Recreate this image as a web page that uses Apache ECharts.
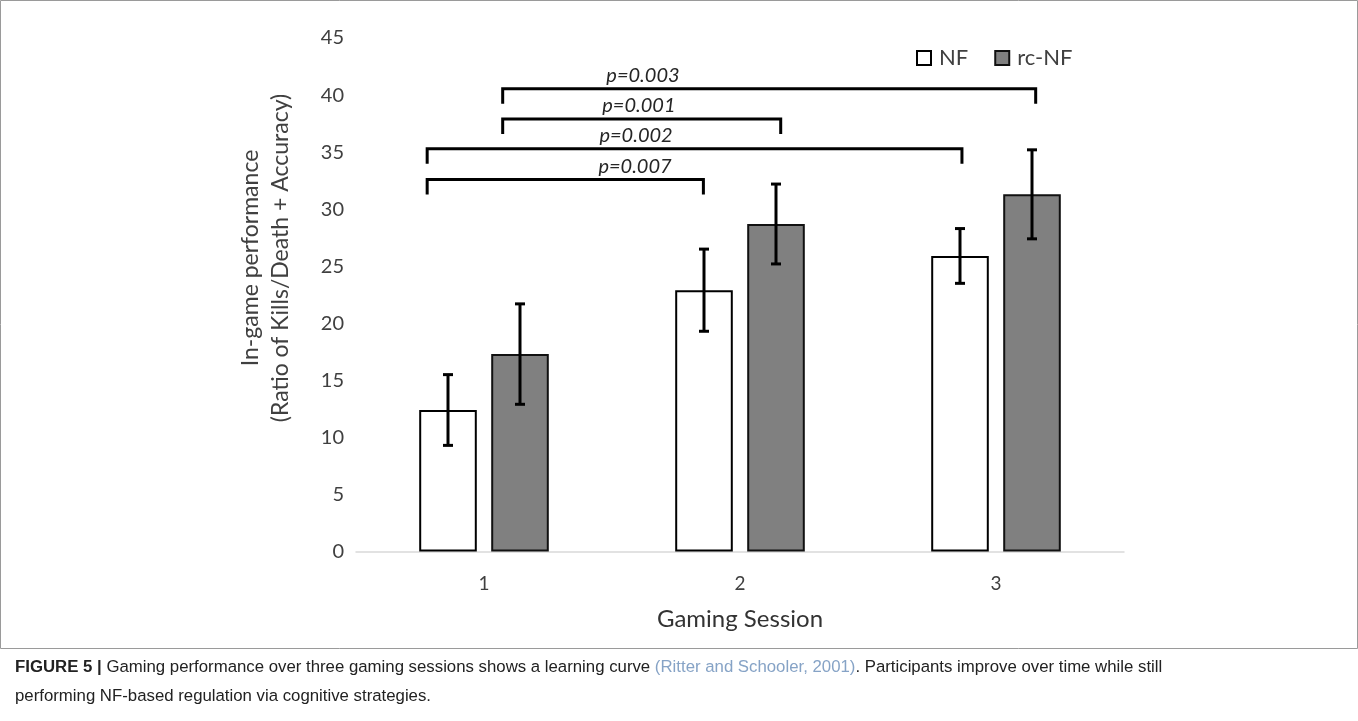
<!DOCTYPE html>
<html>
<head>
<meta charset="utf-8">
<script src="https://cdn.jsdelivr.net/npm/echarts@6/dist/echarts.min.js"></script>
<style>
  html, body { margin: 0; padding: 0; background: #ffffff; }
  #chart { width: 1358px; height: 721px; }
</style>
</head>
<body>
<div id="chart"></div>
<script>
// Gaming sessions on the x axis
const sessions = ['1', '2', '3'];

// Mean in-game performance and error (half-length of the error bar)
const nfMean = [12.4, 22.9, 25.9];
const nfErr  = [3.1, 3.6, 2.4];
const rcMean = [17.3, 28.7, 31.3];
const rcErr  = [4.4, 3.5, 3.9];

// Score axis
const yMin = 0, yMax = 45, yStep = 5;

// Significance brackets: ends in session units, level in score units
const pLabels  = ['p=0.003', 'p=0.001', 'p=0.002', 'p=0.007'];
const pFrom    = [1.073, 1.073, 0.778, 0.778];
const pTo      = [3.155, 2.159, 2.867, 1.857];
const pLevel   = [40.55, 37.9, 35.3, 32.6];
const pLabelAt = [1.621, 1.605, 1.594, 1.590];

// Figure caption
const capLabel = 'FIGURE 5 |';
const capTextA = 'Gaming performance over three gaming sessions shows a learning curve';
const capCite  = '(Ritter and Schooler, 2001)';
const capTextB = '. Participants improve over time while still';
const capLine2 = 'performing NF-based regulation via cognitive strategies.';

const FONT = 'Lato';
const TEXT = '#404040';
const BAR_W = 0.225;   // bar width as a share of the category band
const BAR_GAP = 0.25;  // gap between the two bars, as a share of bar width

const CAP_FONT = 'Liberation Sans';
const CAP_SIZE = 16.8;

function errorBars(side) {
  return function (params, api) {
    const cat = api.value(0);
    const lo = api.coord([cat, api.value(1)]);
    const hi = api.coord([cat, api.value(2)]);
    const band = api.size([1, 0])[0];
    const x = lo[0] + side * band * BAR_W * (1 + BAR_GAP) / 2;
    const cap = 5;
    const st = { stroke: '#000', lineWidth: 3 };
    return {
      type: 'group',
      children: [
        { type: 'line', shape: { x1: x, y1: hi[1], x2: x, y2: lo[1] }, style: st },
        { type: 'line', shape: { x1: x - cap, y1: hi[1], x2: x + cap, y2: hi[1] }, style: st },
        { type: 'line', shape: { x1: x - cap, y1: lo[1], x2: x + cap, y2: lo[1] }, style: st }
      ]
    };
  };
}

function brackets(params, api) {
  const a = api.coord([api.value(0), api.value(2)]);
  const b = api.coord([api.value(1), api.value(2)]);
  const t = api.coord([api.value(3), api.value(2)]);
  const drop = 15;
  return {
    type: 'group',
    children: [
      {
        type: 'polyline',
        shape: { points: [[a[0], a[1] + drop], [a[0], a[1]], [b[0], b[1]], [b[0], b[1] + drop]] },
        style: { stroke: '#000', lineWidth: 3, fill: null, lineJoin: 'miter' }
      },
      {
        type: 'text',
        x: t[0], y: a[1] - 3,
        style: {
          text: pLabels[params.dataIndex],
          fontFamily: FONT, fontStyle: 'italic', fontSize: 20,
          fill: '#262626', align: 'center', verticalAlign: 'bottom'
        }
      }
    ]
  };
}

const chart = echarts.init(document.getElementById('chart'));

chart.setOption({
  animation: false,
  backgroundColor: '#ffffff',
  grid: { left: 356, right: 234, top: 38, bottom: 169.5, containLabel: false },
  legend: {
    data: ['NF', 'rc-NF'],
    left: 916, top: 47, padding: 0,
    icon: 'rect', itemWidth: 14, itemHeight: 14, itemGap: 26,
    textStyle: { fontFamily: FONT, fontSize: 22, color: TEXT, padding: [0, 0, 0, 3] }
  },
  xAxis: [
    {
      type: 'category',
      data: sessions,
      axisLine: { lineStyle: { color: '#d9d9d9', width: 1.5 } },
      axisTick: { show: false },
      axisLabel: { margin: 23, fontFamily: FONT, fontSize: 19, color: TEXT },
      name: 'Gaming Session',
      nameLocation: 'middle',
      nameGap: 56,
      nameTextStyle: { fontFamily: FONT, fontSize: 24, color: '#333' }
    },
    { type: 'value', min: 0.5, max: 3.5, show: false }
  ],
  yAxis: {
    type: 'value',
    min: yMin, max: yMax, interval: yStep,
    splitLine: { show: false },
    axisLine: { show: false },
    axisTick: { show: false },
    axisLabel: { margin: 12, fontFamily: FONT, fontSize: 20, color: TEXT }
  },
  series: [
    {
      name: 'NF', type: 'bar', data: nfMean,
      barWidth: (BAR_W * 100) + '%', barGap: (BAR_GAP * 100) + '%',
      itemStyle: { color: '#ffffff', borderColor: '#000', borderWidth: 2 }
    },
    {
      name: 'rc-NF', type: 'bar', data: rcMean,
      barWidth: (BAR_W * 100) + '%', barGap: (BAR_GAP * 100) + '%',
      itemStyle: { color: '#808080', borderColor: '#111', borderWidth: 2 }
    },
    {
      type: 'custom', renderItem: errorBars(-1), z: 5,
      data: nfMean.map((m, i) => [i, m - nfErr[i], m + nfErr[i]])
    },
    {
      type: 'custom', renderItem: errorBars(1), z: 5,
      data: rcMean.map((m, i) => [i, m - rcErr[i], m + rcErr[i]])
    },
    {
      type: 'custom', xAxisIndex: 1, renderItem: brackets, z: 5,
      data: pLabels.map((t, i) => [pFrom[i], pTo[i], pLevel[i], pLabelAt[i]])
    }
  ],
  graphic: [
    {
      type: 'rect', silent: true,
      shape: { x: 0.5, y: 0.5, width: 1357, height: 648 },
      style: { fill: null, stroke: '#9a9a9a', lineWidth: 1 }
    },
    {
      type: 'text', x: 266, y: 258, rotation: Math.PI / 2,
      style: {
        text: 'In-game performance\n(Ratio of Kills/Death + Accuracy)',
        fontFamily: FONT, fontSize: 23, lineHeight: 30,
        fill: TEXT, align: 'center', verticalAlign: 'middle'
      }
    },
    {
      type: 'text', x: 15, y: 667,
      style: {
        text: '{b|' + capLabel + '} ' + capTextA + ' {c|' + capCite + '}' + capTextB,
        fontFamily: CAP_FONT, fontSize: CAP_SIZE, fill: '#222', verticalAlign: 'middle',
        rich: {
          b: { fontFamily: CAP_FONT, fontSize: CAP_SIZE, fontWeight: 'bold', fill: '#222' },
          c: { fontFamily: CAP_FONT, fontSize: CAP_SIZE, fill: '#86a3c6' }
        }
      }
    },
    {
      type: 'text', x: 15, y: 696,
      style: {
        text: capLine2,
        fontFamily: CAP_FONT, fontSize: CAP_SIZE, fill: '#222', verticalAlign: 'middle'
      }
    }
  ]
});
</script>
</body>
</html>
